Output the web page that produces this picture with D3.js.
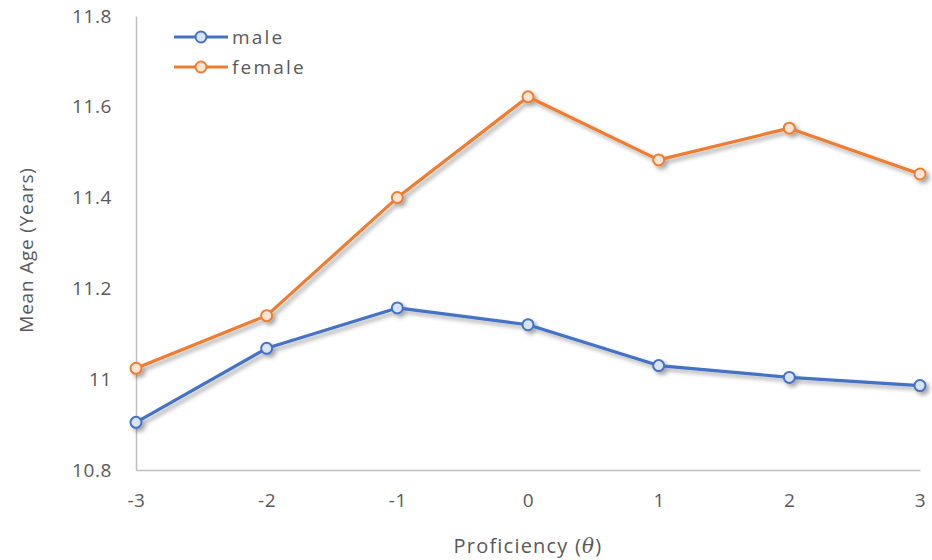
<!DOCTYPE html>
<html><head><meta charset="utf-8">
<script src="https://cdn.jsdelivr.net/npm/d3@7"></script>
<style>body{margin:0;background:#fff}svg{display:block}</style>
</head><body><svg id="c" width="932" height="560"></svg>
<script>
const categories = [-3, -2, -1, 0, 1, 2, 3];
const maleValues = [10.905, 11.068, 11.157, 11.12, 11.03, 11.004, 10.986];
const femaleValues = [11.024, 11.14, 11.40, 11.622, 11.483, 11.553, 11.452];
const yTicks = [10.8, 11, 11.2, 11.4, 11.6, 11.8];
const seriesNames = ["male", "female"];

const svg = d3.select("#c");
const font = "'Open Sans', 'Liberation Sans', sans-serif";
const x = d3.scaleLinear().domain([-3, 3]).range([136, 920]);
const y = d3.scaleLinear().domain([10.8, 11.8]).range([470, 16]);

const defs = svg.append("defs");
const f = defs.append("filter").attr("id","sh").attr("x","-20%").attr("y","-20%").attr("width","140%").attr("height","140%");
f.append("feDropShadow").attr("dx",3).attr("dy",3).attr("stdDeviation",2).attr("flood-color","#000").attr("flood-opacity",0.35);

// axes
const yAxis = d3.axisLeft(y).tickValues(yTicks).tickSize(0).tickPadding(24)
  .tickFormat(d => d === 11 ? "11" : d3.format(".1f")(d));
const gy = svg.append("g").attr("transform","translate(136,0)").call(yAxis);
gy.select(".domain").attr("stroke","#bfbfbf").attr("stroke-width",1.5);
gy.selectAll("text").attr("font-family",font).attr("font-size",19).attr("letter-spacing",0.6).attr("fill","#595959");

const xAxis = d3.axisBottom(x).tickValues(categories).tickSize(0).tickPadding(24).tickFormat(d => String(d));
const gx = svg.append("g").attr("transform","translate(0,470)").call(xAxis);
gx.select(".domain").attr("stroke","#bfbfbf").attr("stroke-width",1.5);
gx.selectAll("text").attr("font-family",font).attr("font-size",19).attr("letter-spacing",0.6).attr("fill","#595959");

// titles
svg.append("text").attr("transform","translate(33,250) rotate(-90)").attr("text-anchor","middle")
  .attr("font-family",font).attr("font-size",19).attr("fill","#595959").attr("letter-spacing",0.8).text("Mean Age (Years)");
const xt = svg.append("text").attr("x",528).attr("y",553).attr("text-anchor","middle")
  .attr("font-family",font).attr("font-size",20).attr("fill","#595959").attr("letter-spacing",1.2);
xt.append("tspan").text("Proficiency (");
xt.append("tspan").attr("font-style","italic").attr("font-family","'DejaVu Serif', serif").text("θ");
xt.append("tspan").text(")");

const series = [
  {name: seriesNames[0], values: maleValues, color: "#4472C4", fill: "#DAE3F3"},
  {name: seriesNames[1], values: femaleValues, color: "#ED7D31", fill: "#FBE5D6"}
];
const line = d3.line().x((d,i) => x(categories[i])).y(d => y(d));
series.forEach(s => {
  const g = svg.append("g").attr("filter","url(#sh)");
  g.append("path").datum(s.values).attr("d", line).attr("fill","none")
    .attr("stroke", s.color).attr("stroke-width",3.2).attr("stroke-linejoin","round");
  g.selectAll("circle").data(s.values).join("circle")
    .attr("cx",(d,i)=>x(categories[i])).attr("cy",d=>y(d)).attr("r",5.5)
    .attr("fill",s.fill).attr("stroke",s.color).attr("stroke-width",2);
});

// legend
series.forEach((s,i) => {
  const ly = 37 + i*30;
  const g = svg.append("g");
  g.append("line").attr("x1",174).attr("x2",228).attr("y1",ly).attr("y2",ly).attr("stroke",s.color).attr("stroke-width",3.2);
  g.append("circle").attr("cx",201).attr("cy",ly).attr("r",5.5).attr("fill",s.fill).attr("stroke",s.color).attr("stroke-width",2);
  g.append("text").attr("x",232).attr("y",ly+7).attr("font-family",font).attr("font-size",19)
    .attr("fill","#595959").attr("letter-spacing",2.2).text(s.name);
});
</script></body></html>
